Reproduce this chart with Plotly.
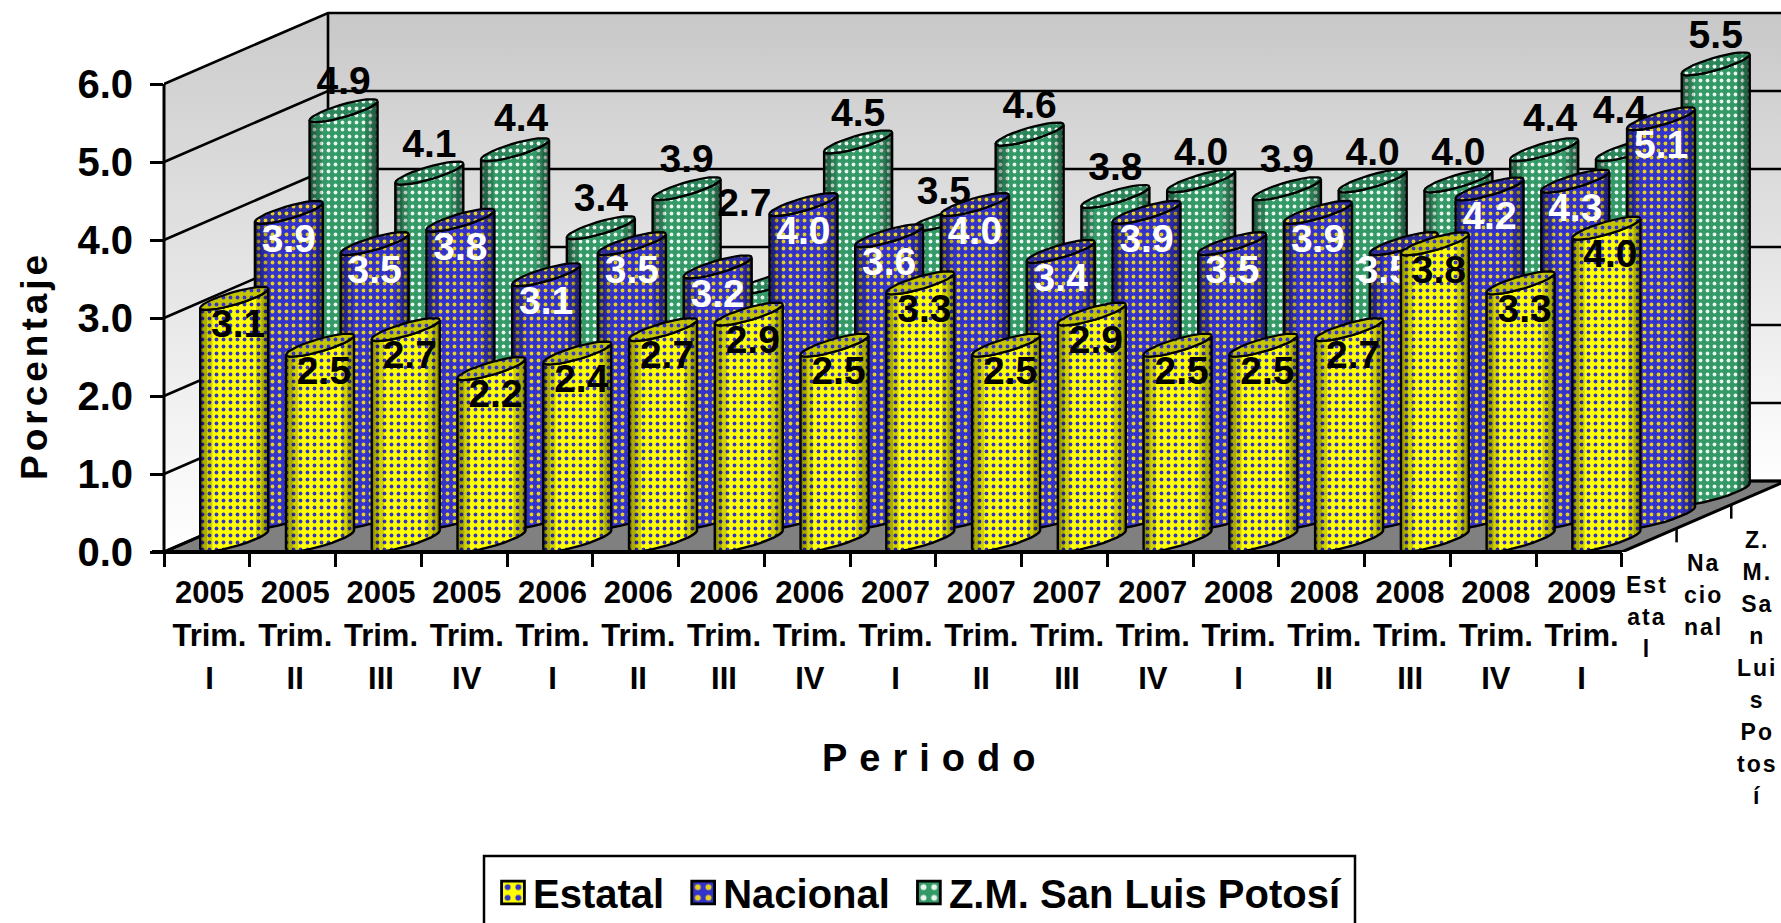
import numpy as np
import plotly.graph_objects as go

periods = ["2005<br>Trim.<br>I", "2005<br>Trim.<br>II", "2005<br>Trim.<br>III", "2005<br>Trim.<br>IV",
           "2006<br>Trim.<br>I", "2006<br>Trim.<br>II", "2006<br>Trim.<br>III", "2006<br>Trim.<br>IV",
           "2007<br>Trim.<br>I", "2007<br>Trim.<br>II", "2007<br>Trim.<br>III", "2007<br>Trim.<br>IV",
           "2008<br>Trim.<br>I", "2008<br>Trim.<br>II", "2008<br>Trim.<br>III", "2008<br>Trim.<br>IV",
           "2009<br>Trim.<br>I"]
estatal = [3.1, 2.5, 2.7, 2.2, 2.4, 2.7, 2.9, 2.5, 3.3, 2.5, 2.9, 2.5, 2.5, 2.7, 3.8, 3.3, 4.0]
nacional = [3.9, 3.5, 3.8, 3.1, 3.5, 3.2, 4.0, 3.6, 4.0, 3.4, 3.9, 3.5, 3.9, 3.5, 4.2, 4.3, 5.1]
zm_slp = [4.9, 4.1, 4.4, 3.4, 3.9, 2.7, 4.5, 3.5, 4.6, 3.8, 4.0, 3.9, 4.0, 4.0, 4.4, 4.4, 5.5]
series_names = ["Estatal", "Nacional", "Z.M. San Luis Potosí"]
y_ticks = [0, 1, 2, 3, 4, 5, 6]
depth_labels = ["Est<br>ata<br>l", "Na<br>cio<br>nal", "Z.<br>M.<br>Sa<br>n<br>Lui<br>s<br>Po<br>tos<br>í"]

FONT = "Liberation Sans"
W, H = 1781, 923
X0, Y0 = 164, 552            # pixel position of the origin
UX, UY = 85.76, 78.0         # pixels per category / per unit
DX, DY = 54.67 / UX, 23.67 / UY   # oblique shift per depth slot, in data units
HALF, SLANT, MINOR = 34 / UX, 9.5 / UY, 6.5 / UY
N = len(periods)
DEPTH = 3


def px(p):
    return (p - X0) / (W - X0)


def py(p):
    return (Y0 - p) / Y0


styles = [
    dict(bg="#FFFF00", fg="#3333CC", cap="#C4C400", txt="black", z=3, lab=-29, dx=4),
    dict(bg="#3333CC", fg="#E8D020", cap="#2A2A9A", txt="white", z=2, lab=-30, dx=0),
    dict(bg="#339966", fg="#E8F4EE", cap="#2C855A", txt="black", z=1, lab=26, dx=0),
]
values = [estatal, nacional, zm_slp]
# hand-placed data labels of the original: (series, period) -> pixel shift right, up
label_nudges = {(2, 5): (-28, 50), (2, 15): (-10, 10), (2, 14): (6, 2), (2, 2): (6, 2), (1, 13): (-20, 0)}

fig = go.Figure()


def poly(xs, ys, **kw):
    fig.add_trace(go.Scatter(x=xs, y=ys, mode="lines", showlegend=False, hoverinfo="skip", **kw))


# walls and floor
poly([0, DEPTH * DX, DEPTH * DX, 0, 0], [0, DEPTH * DY, DEPTH * DY + 6, 6, 0], fill="toself",
     line=dict(width=0), fillgradient=dict(type="vertical", colorscale=[[0, "#FFFFFF"], [1, "#CCCCCC"]]), zorder=0)
poly([DEPTH * DX, 20, 20, DEPTH * DX, DEPTH * DX], [DEPTH * DY, DEPTH * DY, DEPTH * DY + 6, DEPTH * DY + 6, DEPTH * DY],
     fill="toself", line=dict(width=0),
     fillgradient=dict(type="vertical", colorscale=[[0, "#FFFFFF"], [1, "#C8C8C8"]]), zorder=0)
poly([0, N, N + DEPTH * DX, DEPTH * DX, 0], [0, 0, DEPTH * DY, DEPTH * DY, 0], fill="toself",
     fillcolor="#808080", line=dict(color="black", width=3), zorder=0)
gx, gy = [], []
for t in y_ticks:
    gx += [0, DEPTH * DX, 20, None]
    gy += [t, t + DEPTH * DY, t + DEPTH * DY, None]
gx += [DEPTH * DX, DEPTH * DX]
gy += [DEPTH * DY, DEPTH * DY + 6]
poly(gx, gy, line=dict(color="black", width=2.6), zorder=0)


def arc(cx, level, u0, u1, n=14):
    th = np.linspace(np.arccos(u0), np.arccos(u1), n)
    u = np.cos(th)
    return cx + HALF * u, level + SLANT * u - MINOR * np.sqrt(1 - u ** 2)


def body_ring(cx, base, v, u0=-1.0, u1=1.0):
    bx, by = arc(cx, base, u0, u1)
    tx, ty = arc(cx, base + v, u1, u0)
    return list(bx) + list(tx) + [bx[0], None], list(by) + list(ty) + [by[0], None]


for s, (name, vals, st) in enumerate(zip(series_names, values, styles)):
    cx = [i + 0.5 + DX * (s + 0.5) for i in range(N)]
    base = DY * (s + 0.5)
    z = st["z"]
    pat = dict(shape=".", bgcolor=st["bg"], fgcolor=st["fg"], size=7, solidity=0.24, fillmode="replace")
    # core of the column, also the legend entry
    fig.add_trace(go.Bar(x=cx, y=vals, base=base, width=0.4, name=name, zorder=z, hoverinfo="skip",
                         marker=dict(color=st["bg"], pattern=pat, line=dict(color="black", width=1.5))))
    # silhouette
    xs, ys = [], []
    for c, v in zip(cx, vals):
        a, b = body_ring(c, base, v)
        xs += a
        ys += b
    poly(xs, ys, fill="toself", fillcolor=st["bg"], fillpattern=pat, line=dict(width=0), zorder=z)
    # side shading
    for wid in (0.08, 0.2, 0.36):
        xs, ys = [], []
        for c, v in zip(cx, vals):
            for u0, u1 in ((-1.0, -1.0 + wid), (1.0 - wid, 1.0)):
                a, b = body_ring(c, base, v, u0, u1)
                xs += a
                ys += b
        poly(xs, ys, fill="toself", fillcolor="rgba(0,0,0,0.18)", line=dict(width=0), zorder=z)
    # outline
    xs, ys = [], []
    for c, v in zip(cx, vals):
        a, b = body_ring(c, base, v)
        xs += a
        ys += b
    poly(xs, ys, line=dict(color="black", width=2.4), zorder=z)
    # caps
    xs, ys = [], []
    for c, v in zip(cx, vals):
        th = np.linspace(0, 2 * np.pi, 31)
        xs += list(c + HALF * np.cos(th)) + [None]
        ys += list(base + v + SLANT * np.cos(th) + MINOR * np.sin(th)) + [None]
    cappat = dict(pat, bgcolor=st["cap"])
    poly(xs, ys, fill="toself", fillcolor=st["cap"], fillpattern=cappat, line=dict(color="black", width=2.2), zorder=z)
    # value labels
    lx = [c + (st["dx"] + label_nudges.get((s, i), (0, 0))[0]) / UX for i, c in enumerate(cx)]
    ly = [base + v + (st["lab"] + label_nudges.get((s, i), (0, 0))[1]) / UY for i, v in enumerate(vals)]
    fig.add_trace(go.Scatter(x=lx, y=ly, mode="text",
                             text=[f"{v:.1f}" for v in vals], textposition="middle center",
                             textfont=dict(family=FONT, size=39, color=st["txt"], weight="bold"),
                             showlegend=False, hoverinfo="skip", zorder=z, cliponaxis=False))

shapes = [
    dict(type="line", xref="paper", yref="paper", x0=px(152), x1=px(1622), y0=0, y1=0,
         line=dict(color="black", width=4)),
    dict(type="line", xref="paper", yref="paper", x0=0, x1=0, y0=0, y1=py(84),
         line=dict(color="black", width=3)),
    dict(type="rect", xref="paper", yref="paper", x0=px(484), x1=px(1355), y0=py(856), y1=py(960),
         line=dict(color="black", width=2.5), fillcolor="white", layer="below"),
]
for k in range(1, DEPTH):
    xk = X0 + N * UX + k * DX * UX
    yk = Y0 - k * DY * UY
    shapes.append(dict(type="line", xref="paper", yref="paper", x0=px(xk), x1=px(xk), y0=py(yk), y1=py(yk + 14),
                       line=dict(color="black", width=2.5)))

annotations = [
    dict(text="Periodo", xref="paper", yref="paper", x=px(934), y=py(758), showarrow=False, xanchor="center",
         yanchor="middle", font=dict(family=FONT, size=38, color="black", weight="bold")),
    dict(text="Porcentaje", xref="paper", yref="paper", x=px(34), y=py(366), showarrow=False, textangle=-90,
         xanchor="center", yanchor="middle", font=dict(family=FONT, size=37, color="black", weight="bold")),
]
for lab, ax, ay in zip(depth_labels, (1647, 1703, 1757), (570, 548, 525)):
    annotations.append(dict(text=lab, xref="paper", yref="paper", x=px(ax), y=py(ay), showarrow=False, yanchor="top",
                            xanchor="center", font=dict(family=FONT, size=23, color="black", weight="bold")))

fig.update_layout(
    width=W, height=H, autosize=False,
    margin=dict(l=X0, r=0, t=0, b=H - Y0, pad=0),
    paper_bgcolor="white", plot_bgcolor="white",
    barmode="overlay", shapes=shapes, annotations=annotations,
    xaxis=dict(range=[0, (W - X0) / UX], tickmode="array", tickvals=[i + 0.53 for i in range(N)], ticktext=periods,
               ticks="", showgrid=False, zeroline=False, showline=False, ticklabelstandoff=19, tickangle=0,
               tickfont=dict(family=FONT, size=31, color="black", weight="bold"),
               minor=dict(tickmode="array", tickvals=list(range(N + 1)), ticks="outside", ticklen=14, tickwidth=2.5,
                          tickcolor="black", showgrid=False)),
    yaxis=dict(range=[0, Y0 / UY], tickmode="array", tickvals=y_ticks, ticktext=[f"{t:.1f}" for t in y_ticks],
               ticks="outside", ticklen=13, tickwidth=2.5, tickcolor="black", showgrid=False, zeroline=False,
               showline=False, ticklabelstandoff=9,
               tickfont=dict(family=FONT, size=40, color="black", weight="bold")),
    legend=dict(orientation="h", xref="container", yref="container", x=493 / W, y=1 - 860 / H, xanchor="left",
                yanchor="top", bgcolor="rgba(0,0,0,0)",
                font=dict(family=FONT, size=40, color="black", weight="bold"), borderwidth=0, itemclick=False,
                itemdoubleclick=False, traceorder="normal"),
    showlegend=True,
)

post = """
document.body.style.margin='0';document.documentElement.style.overflow='hidden';
function stretch(t,r){t.querySelectorAll('tspan.line').forEach(function(l){
  var d=parseFloat(l.getAttribute('dy'));if(!isNaN(d)){l.setAttribute('dy',(d*r)+'em');}});}
document.querySelectorAll('.legendpoints').forEach(function(g){g.setAttribute('transform','translate(20,0) scale(1.9) translate(-20,0)');});
document.querySelectorAll('.legend .scrollbox').forEach(function(g){g.removeAttribute('clip-path');g.style.clipPath='none';});
document.querySelectorAll('.legend .traces').forEach(function(g,i){
  var m=/translate\\(([-\\d.]+),\\s*([-\\d.]+)\\)/.exec(g.getAttribute('transform'));
  if(m){g.setAttribute('transform','translate('+(parseFloat(m[1])+14*i)+','+m[2]+')');}
});
document.querySelectorAll('.xtick text').forEach(function(t){stretch(t,1.39/1.3);});
document.querySelectorAll('.annotation-text').forEach(function(t){
  var s=t.textContent;
  if(s==='Periodo'){t.style.letterSpacing='12px';}
  else if(s==='Porcentaje'){t.style.letterSpacing='4px';}
  else{t.style.letterSpacing='2px';stretch(t,1.39/1.3);}
});
"""
fig.write_html("out.html", post_script=post, config={"displayModeBar": False})
